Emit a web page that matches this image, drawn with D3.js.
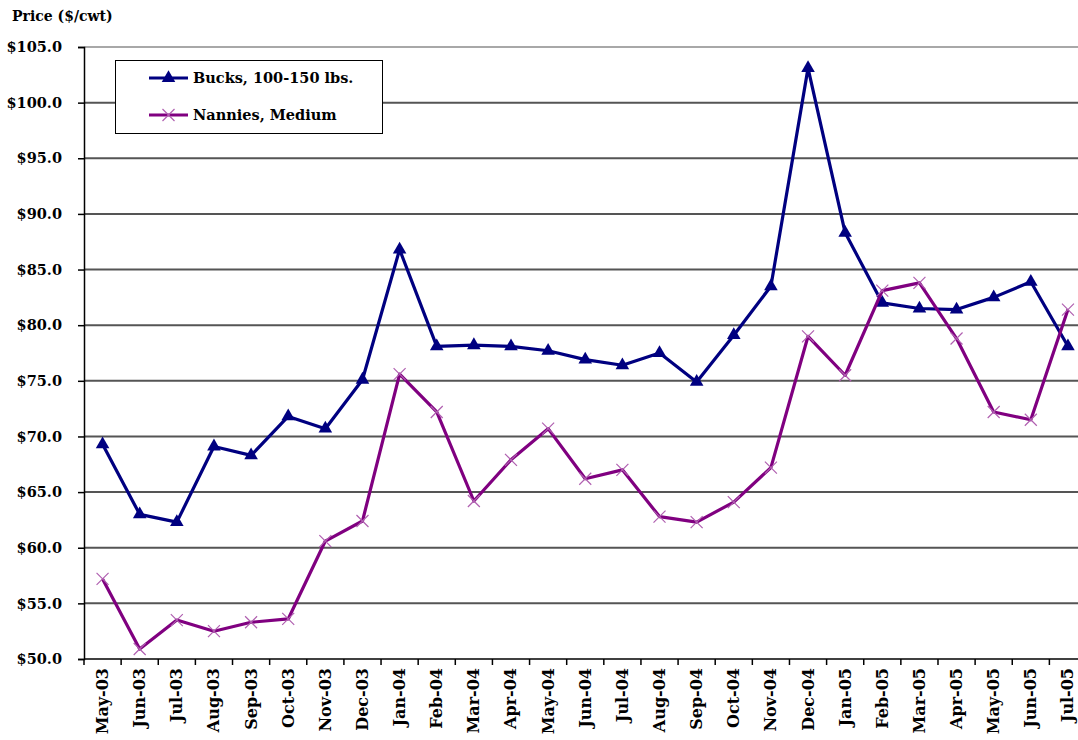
<!DOCTYPE html>
<html>
<head>
<meta charset="utf-8">
<script src="https://cdn.jsdelivr.net/npm/d3@7"></script>
<style>
  html, body { margin: 0; padding: 0; background: #fff; }
  svg { display: block; }
  text { font-family: "DejaVu Serif", "Liberation Serif", serif; font-weight: bold; fill: #000; }
</style>
</head>
<body>
<svg id="chart" width="1078" height="740"></svg>
<script>
// Monthly goat prices, $/cwt
const months = ["May-03","Jun-03","Jul-03","Aug-03","Sep-03","Oct-03","Nov-03","Dec-03",
  "Jan-04","Feb-04","Mar-04","Apr-04","May-04","Jun-04","Jul-04","Aug-04","Sep-04","Oct-04",
  "Nov-04","Dec-04","Jan-05","Feb-05","Mar-05","Apr-05","May-05","Jun-05","Jul-05"];

const bucks = [69.3, 63.0, 62.3, 69.1, 68.3, 71.8, 70.7, 75.1,
  86.8, 78.1, 78.2, 78.1, 77.7, 76.9, 76.4, 77.5, 74.9, 79.1,
  83.5, 103.1, 88.3, 82.0, 81.5, 81.4, 82.5, 83.9, 78.1];

const nannies = [57.2, 50.9, 53.5, 52.5, 53.3, 53.6, 60.6, 62.4,
  75.6, 72.2, 64.2, 67.9, 70.7, 66.2, 67.0, 62.8, 62.3, 64.1,
  67.2, 79.0, 75.5, 83.1, 83.8, 78.8, 72.2, 71.5, 81.4];

const yTicks = [50, 55, 60, 65, 70, 75, 80, 85, 90, 95, 100, 105];

const series = [
  { name: "Bucks, 100-150 lbs.", values: bucks, color: "#000080", marker: "triangle" },
  { name: "Nannies, Medium", values: nannies, color: "#800080", marker: "cross" }
];

const svg = d3.select("#chart");
const plotLeft = 84, plotTop = 47, plotBottom = 659, step = 37.13;

const x = d3.scaleBand().domain(months).range([plotLeft, plotLeft + step * months.length]).padding(0);
const y = d3.scaleLinear().domain([50, 105]).range([plotBottom, plotTop]);
const cx = m => x(m) + x.bandwidth() / 2;

svg.append("rect").attr("width", 1078).attr("height", 740).attr("fill", "#fff");

// horizontal gridlines
svg.append("g").selectAll("line").data(yTicks.filter(t => t > 50)).join("line")
  .attr("x1", plotLeft).attr("x2", x.range()[1])
  .attr("y1", d => y(d)).attr("y2", d => y(d))
  .attr("stroke", d => d === 105 ? "#a8a8a8" : "#555")
  .attr("stroke-width", 2);

// y axis
const yAxis = svg.append("g").attr("transform", `translate(${plotLeft},0)`)
  .call(d3.axisLeft(y).tickValues(yTicks).tickSize(6).tickPadding(16)
    .tickFormat(d => "$" + d3.format(".1f")(d)));
yAxis.select(".domain").attr("stroke", "#000").attr("stroke-width", 1.5);
yAxis.selectAll(".tick line").attr("stroke", "#000").attr("stroke-width", 1.5);
yAxis.selectAll(".tick text").attr("font-size", 14.5)
  .style("font-family", "'DejaVu Serif', serif").style("font-weight", "bold");

// x axis: ticks on category boundaries, labels rotated at category centres
const xg = svg.append("g");
xg.append("line").attr("x1", plotLeft).attr("x2", x.range()[1])
  .attr("y1", plotBottom).attr("y2", plotBottom).attr("stroke", "#000").attr("stroke-width", 1.5);
xg.selectAll("line.tk").data(months.concat(["end"])).join("line").attr("class", "tk")
  .attr("x1", (d, i) => plotLeft + i * x.step()).attr("x2", (d, i) => plotLeft + i * x.step())
  .attr("y1", plotBottom).attr("y2", plotBottom + 6).attr("stroke", "#000").attr("stroke-width", 1.5);
xg.selectAll("text").data(months).join("text")
  .attr("transform", d => `translate(${cx(d) + 5.5},${plotBottom + 9}) rotate(-90)`)
  .attr("text-anchor", "end").attr("font-size", 16).text(d => d);

// lines and markers
const line = d3.line().x((d, i) => cx(months[i])).y(d => y(d));
const tri = d3.symbol().type(d3.symbolTriangle).size(80);

function drawMarker(g, s, px, py) {
  if (s.marker === "triangle") {
    g.append("path").attr("d", tri()).attr("transform", `translate(${px},${py})`)
      .attr("fill", s.color);
  } else {
    const r = 6;
    g.append("path")
      .attr("d", `M${px - r},${py - r}L${px + r},${py + r}M${px - r},${py + r}L${px + r},${py - r}`)
      .attr("stroke", "#b060b0").attr("stroke-width", 1.2).attr("fill", "none");
  }
}

series.forEach(s => {
  const g = svg.append("g");
  g.append("path").datum(s.values).attr("d", line)
    .attr("fill", "none").attr("stroke", s.color).attr("stroke-width", 3.2)
    .attr("stroke-linejoin", "round");
  s.values.forEach((v, i) => drawMarker(g, s, cx(months[i]), y(v)));
});

// legend
const lg = svg.append("g");
lg.append("rect").attr("x", 115.5).attr("y", 60.5).attr("width", 267).attr("height", 73)
  .attr("fill", "#fff").attr("stroke", "#000").attr("stroke-width", 1);
series.forEach((s, i) => {
  const ly = 78 + i * 37;
  lg.append("line").attr("x1", 149).attr("x2", 188).attr("y1", ly).attr("y2", ly)
    .attr("stroke", s.color).attr("stroke-width", 3.2);
  drawMarker(lg, s, 168.5, ly);
  lg.append("text").attr("x", 193).attr("y", ly + 5).attr("font-size", 14.5).text(s.name);
});

// axis title
svg.append("text").attr("x", 12).attr("y", 21).attr("font-size", 14).text("Price ($/cwt)");
</script>
</body>
</html>
